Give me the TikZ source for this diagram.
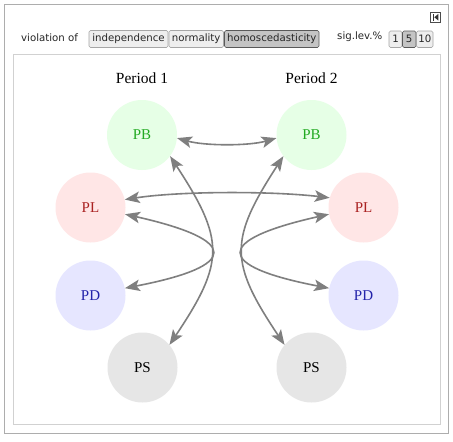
\documentclass[tikz,border=0pt]{standalone}
\usepackage{fontspec}
\setmainfont{Liberation Serif}
\newfontfamily\uifont{DejaVu Sans}
\usetikzlibrary{arrows.meta}
\definecolor{edgegray}{HTML}{7F7F7F}
\definecolor{pbfill}{HTML}{E6FFE6}
\definecolor{pbtext}{HTML}{22AA22}
\definecolor{plfill}{HTML}{FFE6E6}
\definecolor{pltext}{HTML}{AA2222}
\definecolor{pdfill}{HTML}{E6E6FF}
\definecolor{pdtext}{HTML}{2222AA}
\definecolor{psfill}{HTML}{E6E6E6}
\definecolor{btnfill}{HTML}{EEEEEE}
\definecolor{btnsel}{HTML}{C4C4C4}
\tikzset{
  varnode/.style={circle, minimum size=70pt, inner sep=0pt, font=\fontsize{15}{15}\selectfont},
  pbnode/.style={varnode, fill=pbfill, text=pbtext},
  plnode/.style={varnode, fill=plfill, text=pltext},
  pdnode/.style={varnode, fill=pdfill, text=pdtext},
  psnode/.style={varnode, fill=psfill, text=black},
  corr/.style={draw=edgegray, line width=1.6pt, {Stealth[length=15pt,width=11.5pt,inset=3.5pt]}-{Stealth[length=15pt,width=11.5pt,inset=3.5pt]}},
  periodlabel/.style={font=\fontsize{15.5}{15.5}\selectfont},
  uitext/.style={font=\uifont\fontsize{10.2}{10.2}\selectfont, inner sep=0pt, text=black!85},
  btn/.style={draw=black!35, fill=btnfill, rounded corners=1.5pt, line width=0.6pt},
  btnon/.style={draw=black!65, fill=btnsel, rounded corners=1.5pt, line width=0.6pt},
}
\begin{document}
\begin{tikzpicture}[x=1pt, y=-1pt]
\useasboundingbox (0,0) rectangle (453,442);
\fill[white] (0,0) rectangle (453,442);
% frames
\draw[draw=black!32, line width=1pt] (4.5,4.5) rectangle (448.5,433);
\draw[draw=black!18, line width=1pt] (13.5,54.5) rectangle (440,424);
% control bar
\node[uitext, anchor=west] (violab) at (21,38) {violation of};
\draw[btn] (89,30.5) rectangle (168,47.5);
\node[uitext] (indep) at (128.5,39) {independence};
\draw[btn] (169,30.5) rectangle (223.5,47.5);
\node[uitext] (normal) at (196.2,39) {normality};
\draw[btnon] (224.5,30.5) rectangle (319,47.5);
\node[uitext] (homo) at (271.8,39) {homoscedasticity};
\node[uitext, anchor=west] (siglab) at (337,37) {sig.lev.\%};
\draw[btn] (389,31) rectangle (402,47.5);
\node[uitext] (b1) at (395.5,39.2) {1};
\draw[btnon] (402.5,31) rectangle (416,47.5);
\node[uitext] (b5) at (409.2,39.2) {5};
\draw[btn] (416.5,31) rectangle (433,47.5);
\node[uitext] (b10) at (424.8,39.2) {10};
% icon
\draw[black!70, line width=0.8pt, fill=white] (430.5,12.5) rectangle (440,22);
\fill[black!80] (432.5,14) rectangle (433.8,20.5);
\fill[black!80] (438.3,14) -- (438.3,20.5) -- (434.3,17.25) -- cycle;
% period labels
\node[periodlabel] (per1) at (142,78) {Period 1};
\node[periodlabel] (per2) at (311.5,78) {Period 2};
% nodes
\node[pbnode] (PB1) at (142,135) {PB};
\node[plnode] (PL1) at (90.5,207.5) {PL};
\node[pdnode] (PD1) at (90.5,295.5) {PD};
\node[psnode] (PS1) at (142.5,367.5) {PS};
\node[pbnode] (PB2) at (311.5,135) {PB};
\node[plnode] (PL2) at (363.5,207.5) {PL};
\node[pdnode] (PD2) at (363.5,295.5) {PD};
\node[psnode] (PS2) at (311.5,367.5) {PS};
% connectors
\draw[corr] (PB1.-5) .. controls (205,146) and (249,146) .. (PB2.185);
\draw[corr] (PL1.13) .. controls (180,191) and (272,191) .. (PL2.164);
\draw[corr] (PL1.-11) .. controls (240,240) and (240,266) .. (PD1.12);
\draw[corr] (PB1.-37) .. controls (225,240) and (225,262) .. (PS1.40);
\draw[corr] (PL2.191) .. controls (214,240) and (214,266) .. (PD2.168);
\draw[corr] (PB2.217) .. controls (229,240) and (229,262) .. (PS2.140);
\end{tikzpicture}
\end{document}
